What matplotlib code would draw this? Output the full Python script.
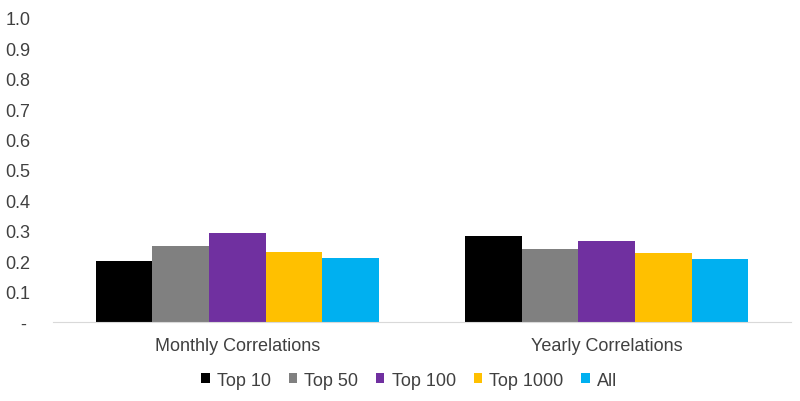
import matplotlib.pyplot as plt
import numpy as np

plt.rcParams['font.family'] = ['Liberation Sans', 'DejaVu Sans']

categories = ['Monthly Correlations', 'Yearly Correlations']
series = ['Top 10', 'Top 50', 'Top 100', 'Top 1000', 'All']
values = {
    'Top 10':   [0.20, 0.283],
    'Top 50':   [0.249, 0.240],
    'Top 100':  [0.293, 0.268],
    'Top 1000': [0.230, 0.227],
    'All':      [0.210, 0.206],
}
colors = ['#000000', '#808080', '#7030a0', '#ffc000', '#00b0f0']
yticks = [0, 0.1, 0.2, 0.3, 0.4, 0.5, 0.6, 0.7, 0.8, 0.9, 1.0]
# dash for zero sits indented like Excel's accounting format
ytick_labels = ['   -', '0.1', '0.2', '0.3', '0.4', '0.5', '0.6', '0.7', '0.8', '0.9', '1.0']

fig = plt.figure(figsize=(8, 4.02), dpi=100)
ax = fig.add_axes([0.066, 0.1965, 0.923, 0.7565])

x = np.arange(len(categories))
w = 0.767 / len(series)
for i, s in enumerate(series):
    ax.bar(x + (i - 2) * w, values[s], width=w, color=colors[i], label=s)

ax.set_xlim(-0.5, 1.5)
ax.set_ylim(0, 1.0)
ax.set_yticks(yticks)
ax.set_yticklabels(ytick_labels)
ax.set_xticks(x)
ax.set_xticklabels(categories)
ax.tick_params(axis='both', length=0, labelsize=13, colors='#404040')
ax.tick_params(axis='y', pad=34)
ax.tick_params(axis='x', pad=11)
for lbl in ax.get_yticklabels():
    lbl.set_horizontalalignment('left')
for sp in ['top', 'right', 'left']:
    ax.spines[sp].set_visible(False)
ax.spines['bottom'].set_color('#d9d9d9')

fig.legend(loc='lower center', bbox_to_anchor=(0.5115, -0.01), ncol=5, frameon=False,
           fontsize=13, handlelength=0.45, handleheight=0.45, handletextpad=0.4,
           columnspacing=1.0, labelcolor='#404040')

fig.savefig('out.png', dpi=100)
